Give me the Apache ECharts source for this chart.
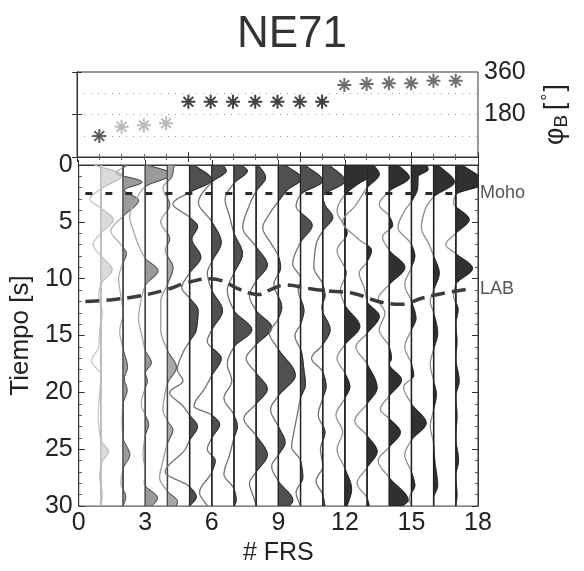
<!DOCTYPE html>
<html>
<head>
<meta charset="utf-8">
<script src="https://cdn.jsdelivr.net/npm/echarts@6/dist/echarts.min.js"></script>
<style>
  html, body { margin: 0; padding: 0; background: #fff; }
  #chart { width: 584px; height: 571px; }
</style>
</head>
<body>
<div id="chart"></div>
<script>
const FONT = '"Liberation Sans", Arial, Helvetica, sans-serif';

// Receiver function numbers and their back azimuths (degrees)
const frsIndex = [1, 2, 3, 4, 5, 6, 7, 8, 9, 10, 11, 12, 13, 14, 15, 16, 17];
const backAzimuth = [89, 128, 134, 143, 234, 234, 234, 234, 234, 234, 234, 305, 309, 312, 312, 323, 323];
const starColors = ['#333333', '#aaaaaa', '#aaaaaa', '#aaaaaa',
  '#111111', '#111111', '#111111', '#111111', '#111111', '#111111', '#111111',
  '#4a4a4a', '#4a4a4a', '#4a4a4a', '#4a4a4a', '#4a4a4a', '#4a4a4a'];

// Axis ticks
const xTicksBottom = [0, 3, 6, 9, 12, 15, 18];
const timeTicks = [0, 5, 10, 15, 20, 25, 30];
const azTickLabels = [180, 360];

// Receiver functions: [time (s), amplitude] knots
const trace1 = [[0,-0.3],[0.9,0.95],[2.1,0],[3.0,-0.5],[3.8,0],[4.8,0.55],[6.0,0],[7.0,-0.35],[8.0,0],[9.2,0.5],[10.5,0],[11.5,-0.1],[13,0.05],[14.5,-0.05],[16,-0.1],[17.2,-0.42],[18.5,0],[20,-0.05],[22,-0.12],[24.2,0],[25.2,0.33],[26.3,0],[27.5,-0.05],[29,0.05],[30,0]];
const trace2 = [[0,0.2],[0.7,-0.3],[1.5,0.85],[2.2,0.05],[3.1,0.7],[4.5,0],[5.8,-0.55],[7,-0.1],[7.8,0.15],[8.6,0],[10,-0.2],[11.5,-0.1],[13,0],[14.6,-0.15],[16.2,0],[17.8,0.2],[18.8,0.05],[19.8,0.18],[21,0],[22.5,-0.05],[24,0],[25.5,0.3],[26.7,0],[28,-0.1],[29.2,0.12],[30,0]];
const trace3 = [[0,0.1],[0.8,1.2],[1.9,0],[3,-0.4],[4.5,-0.7],[6,-0.5],[7.5,-0.2],[8.2,0],[9.3,0.57],[10.6,0],[12,-0.2],[13.5,-0.3],[15,-0.15],[16.3,0],[17.4,0.27],[18.3,0],[19,0.1],[19.6,0],[21,-0.18],[22,0],[22.8,0.15],[23.8,0],[25.5,-0.1],[27,0],[28,-0.05],[29.3,0.55],[30,0.3]];
const trace4 = [[0,0.3],[1,0.2],[2,-0.2],[3.5,0.1],[5,-0.3],[6.5,0.1],[7.5,-0.1],[9.0,0.25],[10.5,0],[12,-0.3],[14.5,-0.3],[16.3,0],[17.8,0.4],[19.2,0],[20,-0.1],[21.5,-0.2],[22.5,0],[23.3,0.24],[24.5,0],[26,-0.2],[27.5,-0.35],[28.7,0],[29.6,0.45],[30,0.4]];
const trace5 = [[0,0.2],[1.3,1.0],[2.4,0],[3.4,-0.75],[4.6,0],[5.4,0.36],[6.5,0.1],[8.1,0.5],[9.5,0],[10.8,-0.35],[11.7,0],[12.8,0.38],[14.5,0.3],[15.5,0],[16.5,-0.3],[18.0,-0.55],[19.0,-0.3],[20.0,-0.9],[21.2,-0.3],[22.0,0],[23.0,0.35],[24.2,0],[25,-0.2],[27,-1.1],[28.3,0],[29.2,0.3],[30,0]];
const trace6 = [[0,0.5],[0.5,0.65],[1.5,0],[3.3,-0.6],[5,0],[6.8,0.42],[8.5,0],[9.5,-0.2],[11,0],[12.8,0.48],[14.5,0],[15.5,-0.2],[17.0,0.42],[18.5,0],[19.6,-0.3],[21.2,-0.8],[22.0,0],[22.8,0.35],[24,0],[25,-0.2],[26,0.15],[27,0],[28.8,-0.55],[30,-0.2]];
const trace7 = [[0,0.3],[0.5,0.6],[1.6,0],[3,-0.4],[4.5,-0.2],[6,0],[7.8,0.38],[9.5,0],[11,-0.3],[12.8,0],[14.5,0.8],[16,0],[17.5,-0.3],[19,-0.1],[20.5,-0.45],[22,0],[23,0.15],[24,0],[25.5,-0.2],[27.2,-0.45],[28.5,0],[29.5,0.1],[30,0]];
const trace8 = [[0,0.1],[1.1,0.42],[2.3,0],[3.5,-0.3],[5.5,-0.6],[7.2,0],[8.8,0.5],[10.2,0],[11.5,-0.3],[12.8,0],[14.3,0.7],[15.8,0],[17,-0.45],[18.3,0],[19.7,0.5],[21,0],[22.3,-0.55],[23.8,0],[25.5,0.5],[27,0],[28,-0.3],[29.3,-0.1],[30,0]];
const trace9 = [[0,0.3],[1.2,1.05],[2.2,0.4],[3.2,0],[4.3,-0.4],[5.5,-0.7],[7,-0.3],[8,0],[9,0.1],[10.5,-0.2],[12.5,0.15],[13.5,0],[14.8,-0.4],[16.2,0],[18.5,0.76],[20.3,0],[21.5,-0.35],[23,0],[24.4,0.3],[25.5,0],[26.5,-0.3],[27.8,0],[29.5,0.65],[30,0.5]];
const trace10 = [[0,0.2],[1.4,1.0],[2.6,0],[3.6,-0.2],[5.3,0.52],[6.8,0],[8.7,-0.35],[10,0],[11,-0.1],[12.8,0.15],[14,0],[15,-0.25],[16.5,0.05],[18,0.15],[19.3,0.22],[20.5,0],[22,-0.15],[23.5,-0.3],[24.8,-0.4],[26,0],[27.5,0.1],[28.8,-0.2],[30,0]];
const trace11 = [[0,0.3],[1.4,1.0],[2.8,0],[3.5,0.1],[4.6,0.45],[5.8,0],[7,-0.3],[9,-0.4],[10.5,0],[11.5,0.1],[12.5,-0.05],[14.5,0.33],[15.8,0],[17,-0.5],[18.2,0],[19.5,0.15],[20.5,0],[22,-0.2],[23.5,0.1],[25,-0.1],[26.5,0],[27.8,-0.3],[29,0],[30,0.1]];
const trace12 = [[0,0.9],[0.5,1.4],[1.8,0.5],[2.6,0],[4,-0.35],[6,0.1],[7.5,-0.35],[9.5,0.05],[11,-0.2],[12.3,0],[14.2,0.67],[15.8,0],[17,-0.35],[18.3,0],[19.5,0.22],[20.5,0],[22,-0.4],[23.5,-0.1],[25,-0.35],[26.7,0],[28.5,0.3],[30,0.1]];
const trace13 = [[0,0.3],[0.8,0.55],[2,0],[3.5,-0.5],[5,-1.1],[6.5,-0.4],[7.5,0.2],[8.5,0],[9.5,-0.35],[11,-0.1],[12,0],[13.3,0.55],[14.8,0],[16,-0.5],[17.5,0],[19.6,0.45],[21,0],[22.5,-0.55],[23.8,0],[25.2,0.45],[26.6,0],[28,-0.45],[29.3,0],[30,0.1]];
const trace14 = [[0,0.4],[1.1,0.9],[2.3,0],[3.5,-0.45],[4.5,0],[5.3,0.15],[6.3,-0.3],[7.5,0],[9.0,0.7],[10.5,0],[11.8,-0.5],[13,-0.2],[14.5,-0.45],[16,0],[17,0.1],[17.5,0],[18.9,0.55],[20.3,0],[21.5,-0.4],[22.3,0],[23.5,0.5],[24.8,0],[26,-0.5],[27.5,0],[29.5,0.85],[30,0.6]];
const trace15 = [[0,0.7],[0.4,0.75],[1,0.3],[2,0.28],[3.2,0],[4,-0.3],[5.5,-0.6],[7,0],[8,0.15],[9,0],[10.5,-0.3],[12,0],[13.5,0.2],[14.5,0],[16,-0.3],[17.5,0],[18.5,0.1],[19.5,-0.35],[21,0],[22.7,0.66],[24.2,0],[25.5,-0.3],[27,0],[28.2,0.15],[29.3,-0.1],[30,0]];
const trace16 = [[0,0.2],[1.5,0.93],[2.8,0],[4,-0.4],[5.5,-0.55],[7,-0.2],[8,0],[9.5,0.25],[11,0],[12,-0.15],[13,0],[14.8,0.18],[16.2,0],[17.5,-0.15],[19,0],[20.2,0.12],[21.5,0],[23,-0.15],[24.5,0],[26,0.05],[28.2,0.18],[29.3,0],[30,0]];
const trace17 = [[0,0.3],[1.6,1.3],[2.6,0],[3.3,-0.1],[4.8,0.6],[6,0],[7,-0.45],[7.8,0],[9.1,0.75],[10.5,0],[11.5,-0.1],[12.7,0.1],[14,0],[15.5,0.05],[17,0],[19,0.15],[20.3,0],[22,0.05],[24,0],[26,0.12],[27.3,0],[29,0.05],[30,0]];
const traces = [trace1, trace2, trace3, trace4, trace5, trace6, trace7, trace8, trace9,
  trace10, trace11, trace12, trace13, trace14, trace15, trace16, trace17];

// Shading of each trace: positive fill, fill outline, full wiggle, zero line
const traceFill = ['#dadada', '#9c9c9c', '#9a9a9a', '#a8a8a8',
  '#505050', '#505050', '#505050', '#505050', '#505050', '#505050', '#505050',
  '#303030', '#303030', '#303030', '#303030', '#303030', '#303030'];
const traceEdge = ['#b5b5b5', '#444444', '#444444', '#444444',
  '#222222', '#222222', '#222222', '#222222', '#222222', '#222222', '#222222',
  '#1c1c1c', '#1c1c1c', '#1c1c1c', '#1c1c1c', '#1c1c1c', '#1c1c1c'];
const traceLine = ['#c4c4c4', '#b0b0b0', '#a8a8a8', '#9a9a9a',
  '#707070', '#707070', '#707070', '#707070', '#707070', '#707070', '#707070',
  '#8c8c8c', '#8c8c8c', '#8c8c8c', '#8c8c8c', '#8c8c8c', '#8c8c8c'];
const traceBase = ['#c2c2c2', '#5a5a5a', '#555555', '#555555',
  '#444444', '#444444', '#444444', '#444444', '#444444', '#444444', '#444444',
  '#444444', '#444444', '#444444', '#444444', '#444444', '#444444'];

// Interfaces: Moho (flat) and LAB (curved), time in s
const mohoLine = [[0.3, 2.5], [17.3, 2.5]];
const labLine = [[0.3,12.0],[1.5,11.85],[2.8,11.5],[3.9,11.0],[4.8,10.4],[5.9,10.0],[6.5,10.2],[7.2,10.9],[8.1,11.4],[8.6,11.0],[9.3,10.55],[10.5,10.9],[11.4,11.1],[12.4,11.3],[13.5,12.0],[14.5,12.25],[15.5,11.7],[16.4,11.3],[17.6,10.9]];

const T_MAX = 30;

// Shape-preserving cubic (PCHIP) through the knots, used to draw smooth wiggles
function pchipCurve(knots, step) {
  const n = knots.length;
  const xs = knots.map(k => k[0]), ys = knots.map(k => k[1]);
  const h = [], d = [];
  for (let i = 0; i < n - 1; i++) {
    h.push(xs[i + 1] - xs[i]);
    d.push((ys[i + 1] - ys[i]) / h[i]);
  }
  const m = new Array(n).fill(0);
  m[0] = d[0];
  m[n - 1] = d[n - 2];
  for (let i = 1; i < n - 1; i++) {
    if (d[i - 1] * d[i] <= 0) { m[i] = 0; continue; }
    const w1 = 2 * h[i] + h[i - 1], w2 = h[i] + 2 * h[i - 1];
    m[i] = (w1 + w2) / (w1 / d[i - 1] + w2 / d[i]);
  }
  const out = [];
  let seg = 0;
  for (let t = xs[0]; t <= xs[n - 1] + 1e-9; t += step) {
    while (seg < n - 2 && t > xs[seg + 1]) seg++;
    const hh = h[seg], s = (t - xs[seg]) / hh;
    const s2 = s * s, s3 = s2 * s;
    const v = (2 * s3 - 3 * s2 + 1) * ys[seg] + (s3 - 2 * s2 + s) * hh * m[seg]
      + (-2 * s3 + 3 * s2) * ys[seg + 1] + (s3 - s2) * hh * m[seg + 1];
    out.push([t, v]);
  }
  return out;
}

const chart = echarts.init(document.getElementById('chart'), null, { renderer: 'canvas' });

const axisColor = '#333';
const labelStyle = { fontFamily: FONT, fontSize: 25, color: '#222' };

const option = {
  animation: false,
  backgroundColor: '#fff',
  title: {
    text: 'NE71',
    left: 'center',
    top: 8,
    textStyle: { fontFamily: FONT, fontSize: 44, fontWeight: 'normal', color: '#333' }
  },
  grid: [
    { left: 77, right: 106, top: 72, height: 85, show: true, borderColor: axisColor, borderWidth: 1, backgroundColor: '#fff' },
    { left: 77, right: 106, top: 165, height: 345, show: true, borderColor: axisColor, borderWidth: 1, backgroundColor: '#fff' }
  ],
  xAxis: [
    { gridIndex: 0, type: 'value', min: 0, max: 18, interval: 5, position: 'bottom',
      axisLine: { show: true, lineStyle: { color: axisColor } },
      axisTick: { show: true, inside: true, length: 5, lineStyle: { color: axisColor } },
      minorTick: { show: true, splitNumber: 5, length: 3, lineStyle: { color: '#666' } },
      axisLabel: { show: false }, splitLine: { show: false } },
    { gridIndex: 0, type: 'value', min: 0, max: 18, interval: 5, position: 'top',
      axisLine: { show: true, lineStyle: { color: axisColor } },
      axisTick: { show: true, inside: true, length: 5, lineStyle: { color: axisColor } },
      minorTick: { show: true, splitNumber: 5, length: 3, lineStyle: { color: '#666' } },
      axisLabel: { show: false }, splitLine: { show: false } },
    { gridIndex: 1, type: 'value', min: xTicksBottom[0], max: xTicksBottom[xTicksBottom.length - 1], interval: 3, position: 'bottom',
      name: '# FRS', nameLocation: 'middle', nameGap: 31,
      nameTextStyle: { fontFamily: FONT, fontSize: 25, color: '#222' },
      axisLine: { show: true, lineStyle: { color: axisColor } },
      axisTick: { show: true, inside: true, length: 5, lineStyle: { color: axisColor } },
      axisLabel: Object.assign({ margin: 5 }, labelStyle), splitLine: { show: false } }
  ],
  yAxis: [
    { gridIndex: 0, type: 'value', min: 0, max: 360, interval: 180, position: 'right',
      name: '{phi|φ}{sub|B}{gap| }{br|[}{deg|°}{br|]}', nameLocation: 'middle', nameGap: 62, nameRotate: 90,
      nameTextStyle: {
        fontFamily: FONT, fontSize: 25, color: '#222',
        rich: {
          phi: { fontFamily: FONT, fontSize: 27, color: '#222' },
          sub: { fontFamily: FONT, fontSize: 19, color: '#222', verticalAlign: 'bottom', padding: [12, 0, 0, 0] },
          gap: { fontFamily: FONT, fontSize: 16 },
          br: { fontFamily: FONT, fontSize: 27, color: '#222' },
          deg: { fontFamily: FONT, fontSize: 18, color: '#222', verticalAlign: 'top', padding: [0, 2, 12, 2] }
        }
      },
      axisLine: { show: true, lineStyle: { color: axisColor } },
      axisTick: { show: true, inside: true, length: 5, lineStyle: { color: axisColor } },
      axisLabel: Object.assign({ margin: 6, formatter: v => (azTickLabels.indexOf(v) >= 0 ? String(v) : '') }, labelStyle),
      splitLine: { show: false } },
    { gridIndex: 0, type: 'value', min: 0, max: 360, interval: 180, position: 'left',
      axisLine: { show: true, lineStyle: { color: axisColor } },
      axisTick: { show: true, inside: true, length: 5, lineStyle: { color: axisColor } },
      axisLabel: { show: false }, splitLine: { show: false } },
    { gridIndex: 0, type: 'value', min: 0, max: 360, interval: 90, show: true,
      axisLine: { show: false }, axisTick: { show: false }, axisLabel: { show: false },
      splitLine: { show: true, lineStyle: { color: '#9a9a9a', type: [1, 6], width: 1 } } },
    { gridIndex: 1, type: 'value', min: timeTicks[0], max: timeTicks[timeTicks.length - 1], interval: 5, inverse: true, position: 'left',
      name: 'Tiempo [s]', nameLocation: 'middle', nameGap: 40, nameRotate: 90,
      nameTextStyle: { fontFamily: FONT, fontSize: 26, color: '#222' },
      axisLine: { show: true, lineStyle: { color: axisColor } },
      axisTick: { show: true, inside: true, length: 6, lineStyle: { color: axisColor } },
      minorTick: { show: true, splitNumber: 5, length: 3, lineStyle: { color: '#555' } },
      axisLabel: Object.assign({ margin: 6 }, labelStyle), splitLine: { show: false } },
    { gridIndex: 1, type: 'value', min: 0, max: 30, interval: 5, inverse: true, position: 'right',
      axisLine: { show: true, lineStyle: { color: axisColor } },
      axisTick: { show: true, inside: true, length: 6, lineStyle: { color: axisColor } },
      minorTick: { show: true, splitNumber: 5, length: 3, lineStyle: { color: '#555' } },
      axisLabel: { show: false }, splitLine: { show: false } }
  ],
  series: [
    {
      name: 'backAzimuth',
      type: 'scatter',
      xAxisIndex: 0, yAxisIndex: 0,
      symbol: 'path://M10,0 L10,20 M0,10 L20,10 M3,3 L17,17 M3,17 L17,3',
      symbolSize: 14,
      data: frsIndex.map((f, i) => ({
        value: [f, backAzimuth[i]],
        itemStyle: { color: 'rgba(0,0,0,0)', borderColor: starColors[i], borderWidth: 2 }
      })),
      z: 5
    },
    {
      name: 'receiverFunctions',
      type: 'custom',
      xAxisIndex: 2, yAxisIndex: 3,
      clip: true,
      data: frsIndex.map(f => [f, 0]),
      encode: { x: 0, y: 1 },
      renderItem: function (params, api) {
        const k = params.dataIndex;
        const base = api.value(0);
        const curve = pchipCurve(traces[k], 0.05);
        const linePts = curve.map(p => api.coord([base + p[1], p[0]]));
        const fillPts = [api.coord([base, 0])]
          .concat(curve.map(p => api.coord([base + Math.max(p[1], 0), p[0]])))
          .concat([api.coord([base, T_MAX])]);
        const b0 = api.coord([base, 0]);
        const b1 = api.coord([base, T_MAX]);
        return {
          type: 'group',
          children: [
            { type: 'line', shape: { x1: b0[0], y1: b0[1], x2: b1[0], y2: b1[1] },
              style: { stroke: traceBase[k], lineWidth: 1.5 } },
            { type: 'polyline', shape: { points: linePts },
              style: { stroke: traceLine[k], fill: null, lineWidth: 1.3 } },
            { type: 'polygon', shape: { points: fillPts },
              style: { fill: traceFill[k], stroke: traceEdge[k], lineWidth: 1 } }
          ]
        };
      },
      z: 2
    },
    {
      name: 'Moho',
      type: 'line',
      xAxisIndex: 2, yAxisIndex: 3,
      data: mohoLine,
      symbol: 'none',
      lineStyle: { color: '#2a2a2a', width: 3, type: [7, 13] },
      z: 4
    },
    {
      name: 'LAB',
      type: 'line',
      xAxisIndex: 2, yAxisIndex: 3,
      data: labLine,
      symbol: 'none',
      smooth: 0.4,
      lineStyle: { color: '#3c3c3c', width: 3.5, type: [14, 7] },
      z: 4
    }
  ]
};

chart.setOption(option);

// Interface names beside the right edge of the time panel
const mohoPos = chart.convertToPixel({ xAxisIndex: 2, yAxisIndex: 3 }, [18, mohoLine[0][1]]);
const labPos = chart.convertToPixel({ xAxisIndex: 2, yAxisIndex: 3 }, [18, labLine[labLine.length - 1][1]]);
chart.setOption({
  graphic: [
    { type: 'text', x: mohoPos[0] + 2, y: mohoPos[1], style: { text: 'Moho', fontFamily: FONT, fontSize: 18, fill: '#555', verticalAlign: 'middle' } },
    { type: 'text', x: labPos[0] + 2, y: labPos[1], style: { text: 'LAB', fontFamily: FONT, fontSize: 18, fill: '#555', verticalAlign: 'middle' } }
  ]
});
</script>
</body>
</html>
